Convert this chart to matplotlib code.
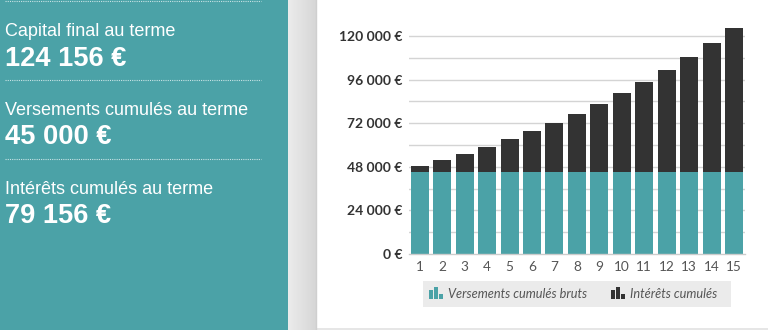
import matplotlib
matplotlib.use("Agg")
import matplotlib.pyplot as plt
from matplotlib.patches import Rectangle
from matplotlib.lines import Line2D
import numpy as np

years = [1, 2, 3, 4, 5, 6, 7, 8, 9, 10, 11, 12, 13, 14, 15]
versements = [45000, 45000, 45000, 45000, 45000, 45000, 45000, 45000,
              45000, 45000, 45000, 45000, 45000, 45000, 45000]
interets = [3600, 6580, 10050, 14080, 18120, 22530, 27110, 32250,
            37760, 43810, 49870, 56290, 63450, 70980, 79156]
yticks = [0, 24000, 48000, 72000, 96000, 120000]
ytick_labels = ["0 €", "24 000 €", "48 000 €", "72 000 €", "96 000 €", "120 000 €"]
summary_labels = ["Capital final au terme", "Versements cumulés au terme",
                  "Intérêts cumulés au terme"]
summary_values = ["124 156 €", "45 000 €", "79 156 €"]
legend_labels = ["Versements cumulés bruts", "Intérêts cumulés"]

TEAL = "#4ba2a7"
DARK = "#333333"
W, H = 768, 330

fig = plt.figure(figsize=(W / 100, H / 100), dpi=100)
fig.patch.set_facecolor("white")

def px(x, y):
    return (x / W, 1 - y / H)

# Left teal panel
fig.add_artist(Rectangle((0, 0), 288 / W, 1, transform=fig.transFigure,
                         facecolor=TEAL, edgecolor="none", zorder=0))
# Shadow strip gradient
gax = fig.add_axes([288 / W, 0, 28 / W, 1])
grad = np.linspace(0, 1, 64)[None, :]
cols = np.array([0.925, 0.925, 0.925])[None, None, :] * (1 - grad[..., None]) + \
       np.array([0.84, 0.84, 0.84])[None, None, :] * grad[..., None]
gax.imshow(cols, aspect="auto", extent=[0, 1, 0, 1])
gax.set_axis_off()
fig.add_artist(Line2D([315.5 / W, 315.5 / W], [0, 1], transform=fig.transFigure,
                      color="#cfcfcf", lw=1))
# card bottom edge
fig.add_artist(Rectangle((316 / W, 0), 1, 2 / H, transform=fig.transFigure,
                         facecolor="#e6e6e6", edgecolor="none", zorder=0))

# Separators
for yy in [0.5, 80, 159]:
    x0, y0 = px(5, yy)
    x1, _ = px(261, yy)
    fig.add_artist(Line2D([x0, x1], [y0, y0], transform=fig.transFigure,
                          color="#c8e3e5", lw=0.8, linestyle=(0, (1, 1))))

# Summary texts
label_base = [36.5, 115, 194]
value_base = [65.5, 144.5, 223]
for lab, val, lb, vb in zip(summary_labels, summary_values, label_base, value_base):
    fig.text(*px(5, lb), lab, color="white", fontsize=13,
             family="Liberation Sans", va="baseline", ha="left")
    fig.text(*px(5, vb), val, color="white", fontsize=19.6, fontweight="bold",
             family="Liberation Sans", va="baseline", ha="left")

# Chart axes
top_px = 25.0
ax = fig.add_axes([409 / W, (H - 254) / H, (745 - 409) / W, (254 - top_px) / H])
ymax = 120000 * (254 - top_px) / (254 - 36)
ax.set_xlim(0.52, 15.49)
ax.set_ylim(0, ymax)
ax.set_facecolor("none")

for g in range(12000, 120001, 12000):
    ax.axhline(g, color="#d4d4d4", lw=1, zorder=0)

ax.bar(years, versements, width=0.8, color=TEAL, zorder=2)
ax.bar(years, interets, bottom=versements, width=0.8, color=DARK, zorder=2)

for s in ["top", "right", "left"]:
    ax.spines[s].set_visible(False)
ax.spines["bottom"].set_color("#cccccc")
ax.spines["bottom"].set_linewidth(1)
ax.set_yticks(yticks)
ax.set_yticklabels(ytick_labels, family="Lato", fontweight="bold", fontsize=10,
                   color="#333333")
ax.set_xticks(years)
ax.set_xticklabels([str(y) for y in years], family="Lato", fontsize=9.8,
                   color="#555555")
ax.tick_params(axis="both", length=0)
ax.tick_params(axis="y", pad=5)
ax.tick_params(axis="x", pad=5)

# Legend
fig.add_artist(Rectangle(px(423, 307), (731 - 423) / W, 26 / H,
                         transform=fig.transFigure, facecolor="#ebebeb",
                         edgecolor="none"))

def icon(x, color):
    base = 299
    for dx, h in [(0, 9), (5, 12.5), (10, 5)]:
        fig.add_artist(Rectangle(px(x + dx, base), 3.7 / W, h / H,
                                 transform=fig.transFigure, facecolor=color,
                                 edgecolor="none"))

icon(429, TEAL)
icon(611, DARK)
fig.text(*px(448, 294), legend_labels[0], family="Lato", style="italic",
         fontsize=9.2, color="#555555", va="center", ha="left")
fig.text(*px(630, 294), legend_labels[1], family="Lato", style="italic",
         fontsize=9.2, color="#555555", va="center", ha="left")

fig.savefig("out.png", dpi=100)
